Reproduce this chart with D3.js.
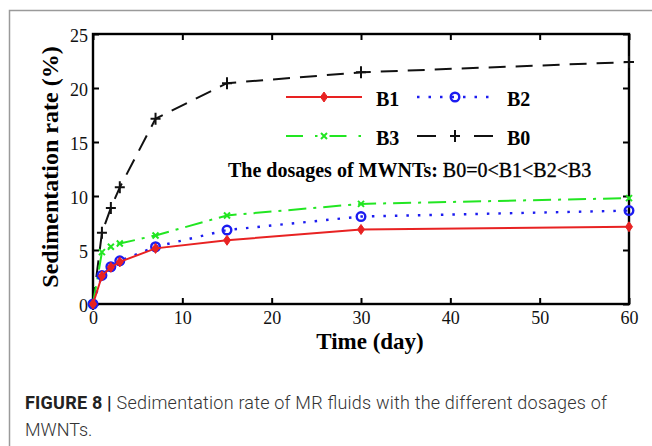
<!DOCTYPE html>
<html>
<head>
<meta charset="utf-8">
<script src="https://cdn.jsdelivr.net/npm/d3@7"></script>
<style>
  body { margin: 0; background: #fff; }
  svg { display: block; }
  .tick text { font-family: "Liberation Serif", "Times New Roman", serif; font-size: 18px; fill: #111; }
</style>
</head>
<body>
<div id="content"></div>
<script>
// data (day vs sedimentation rate %)
var days = [0, 1, 2, 3, 7, 15, 30, 60];
var b1 = [0, 2.6, 3.4, 3.9, 5.15, 5.9, 6.9, 7.15];
var b2 = [0, 2.65, 3.45, 4.0, 5.3, 6.85, 8.1, 8.65];
var b3 = [0, 4.8, 5.3, 5.6, 6.35, 8.2, 9.27, 9.8];
var b0 = [0, 6.6, 8.9, 10.8, 17.15, 20.45, 21.45, 22.4];
var xTicks = [0, 10, 20, 30, 40, 50, 60];
var yTicks = [0, 5, 10, 15, 20, 25];

var width = 652, height = 446;
var pLeft = 93, pRight = 629, pTop = 34, pBottom = 304; //plot box in px (don't call it "top", clashes with window.top)

var svg = d3.select("#content").append("svg")
    .attr("width", width)
    .attr("height", height);

// grey figure frame (top + left edges only, rest is cut off)
svg.append("path")
    .attr("d", "M9.5 446 L9.5 10.5 L652 10.5")
    .attr("fill", "none")
    .attr("stroke", "#9a9a9a")
    .attr("stroke-width", 1.5);

var x = d3.scaleLinear().domain([0, 60]).range([pLeft, pRight]);
var y = d3.scaleLinear().domain([0, 25]).range([pBottom, pTop]);

// axes, ticks point inwards on all four sides
svg.append("g").attr("transform", "translate(0," + pBottom + ")")
    .call(d3.axisBottom(x).tickValues(xTicks).tickSizeInner(-6).tickSizeOuter(0).tickPadding(7));
svg.append("g").attr("transform", "translate(0," + pTop + ")")
    .call(d3.axisTop(x).tickValues(xTicks).tickSizeInner(-6).tickSizeOuter(0).tickFormat(""));
svg.append("g").attr("transform", "translate(" + pLeft + ",0)")
    .call(d3.axisLeft(y).tickValues(yTicks).tickSizeInner(-6).tickSizeOuter(0).tickPadding(5));
svg.append("g").attr("transform", "translate(" + pRight + ",0)")
    .call(d3.axisRight(y).tickValues(yTicks).tickSizeInner(-6).tickSizeOuter(0).tickFormat(""));

svg.selectAll(".domain").remove();
svg.selectAll(".tick line").attr("stroke", "#000").attr("stroke-width", 2);
// the labels sit a touch low in the original
svg.selectAll(".tick text").attr("dy", function(){ return d3.select(this).attr("dy") == "0.32em" ? "0.42em" : d3.select(this).attr("dy"); });

svg.append("rect")
    .attr("x", pLeft).attr("y", pTop)
    .attr("width", pRight - pLeft).attr("height", pBottom - pTop)
    .attr("fill", "none").attr("stroke", "#000").attr("stroke-width", 2.4);

// series styles
var series = [
    {name: "B0", vals: b0, color: "#111", dash: "17,10", marker: "plus"},
    {name: "B3", vals: b3, color: "#22e622", dash: "18,7,3,7", marker: "x"},
    {name: "B2", vals: b2, color: "#1c1cf0", dash: "2.5,9", marker: "circle"},
    {name: "B1", vals: b1, color: "#e82222", dash: null, marker: "diamond"}
];

var line = d3.line()
    .x(function(d){ return x(d[0]); })
    .y(function(d){ return y(d[1]); });

function drawMarker(g, type, cx, cy, color){
    if(type == "plus"){
        g.append("path").attr("d", "M" + (cx-5) + " " + cy + " L" + (cx+5) + " " + cy + " M" + cx + " " + (cy-6) + " L" + cx + " " + (cy+6))
            .attr("stroke", color).attr("stroke-width", 2);
    }else if(type == "x"){
        g.append("path").attr("d", "M" + (cx-3) + " " + (cy-3) + " L" + (cx+3) + " " + (cy+3) + " M" + (cx-3) + " " + (cy+3) + " L" + (cx+3) + " " + (cy-3))
            .attr("stroke", color).attr("stroke-width", 2);
    }else if(type == "circle"){
        g.append("circle").attr("cx", cx).attr("cy", cy).attr("r", 4.3)
            .attr("fill", "none").attr("stroke", color).attr("stroke-width", 2.4);
    }else{
        g.append("path").attr("d", "M" + cx + " " + (cy-5) + " L" + (cx+3.5) + " " + cy + " L" + cx + " " + (cy+5) + " L" + (cx-3.5) + " " + cy + " Z")
            .attr("fill", color).attr("stroke", color).attr("stroke-width", 1);
    }
}

series.forEach(function(s){
    var pts = days.map(function(d, i){ return [d, s.vals[i]]; });
    var g = svg.append("g");
    g.append("path")
        .attr("d", line(pts))
        .attr("fill", "none")
        .attr("stroke", s.color)
        .attr("stroke-width", s.name == "B2" ? 2.4 : 2)
        .attr("stroke-dasharray", s.dash);
    pts.forEach(function(p){
        drawMarker(g, s.marker, x(p[0]), y(p[1]), s.color);
    });
});

// legend, two rows
var legend = [
    {s: series[3], x1: 286, y: 97, dash: null},
    {s: series[2], x1: 417, y: 97, dash: "2.5,9"},
    {s: series[1], x1: 286, y: 136, dash: "17,12,2.5,12"},
    {s: series[0], x1: 417, y: 136, dash: "19,38"}
];
legend.forEach(function(l){
    var g = svg.append("g");
    g.append("line")
        .attr("x1", l.x1).attr("x2", l.x1 + 76)
        .attr("y1", l.y).attr("y2", l.y)
        .attr("stroke", l.s.color)
        .attr("stroke-width", l.s.name == "B2" ? 2.4 : 2)
        .attr("stroke-dasharray", l.dash);
    drawMarker(g, l.s.marker, l.x1 + 38, l.y, l.s.color);
    g.append("text")
        .text(l.s.name)
        .attr("x", l.x1 + 90)
        .attr("y", l.y + 9)
        .style("font-family", "Liberation Serif, serif")
        .style("font-weight", "bold")
        .style("font-size", "20px");
});

var note = svg.append("text")
    .attr("x", 228).attr("y", 177)
    .style("font-family", "Liberation Serif, serif")
    .style("font-size", "20px");
note.append("tspan").text("The dosages of MWNTs: ").style("font-weight", "bold");
note.append("tspan").text("B0=0<B1<B2<B3").attr("stroke", "#000").attr("stroke-width", 0.35);

// axis titles
svg.append("text")
    .text("Time (day)")
    .attr("x", 370).attr("y", 349)
    .attr("text-anchor", "middle")
    .style("font-family", "Liberation Serif, serif")
    .style("font-weight", "bold")
    .style("font-size", "23px");

svg.append("text")
    .text("Sedimentation rate (%)")
    .attr("transform", "translate(58,167) rotate(-90)")
    .attr("text-anchor", "middle")
    .style("font-family", "Liberation Serif, serif")
    .style("font-weight", "bold")
    .style("font-size", "24px");

// caption
var cap = svg.append("text")
    .attr("x", 25).attr("y", 409)
    .attr("textLength", 582)
    .style("font-family", "Roboto, Liberation Sans, sans-serif")
    .style("font-size", "18px")
    .style("fill", "#333");
cap.append("tspan").text("FIGURE 8 | ").style("font-weight", "bold").style("fill", "#222");
cap.append("tspan").text("Sedimentation rate of MR fluids with the different dosages of").style("font-weight", "300");

svg.append("text")
    .text("MWNTs.")
    .attr("x", 25).attr("y", 436)
    .style("font-family", "Roboto, Liberation Sans, sans-serif")
    .style("font-size", "18px")
    .style("font-weight", "300")
    .style("fill", "#333");
</script>
</body>
</html>
